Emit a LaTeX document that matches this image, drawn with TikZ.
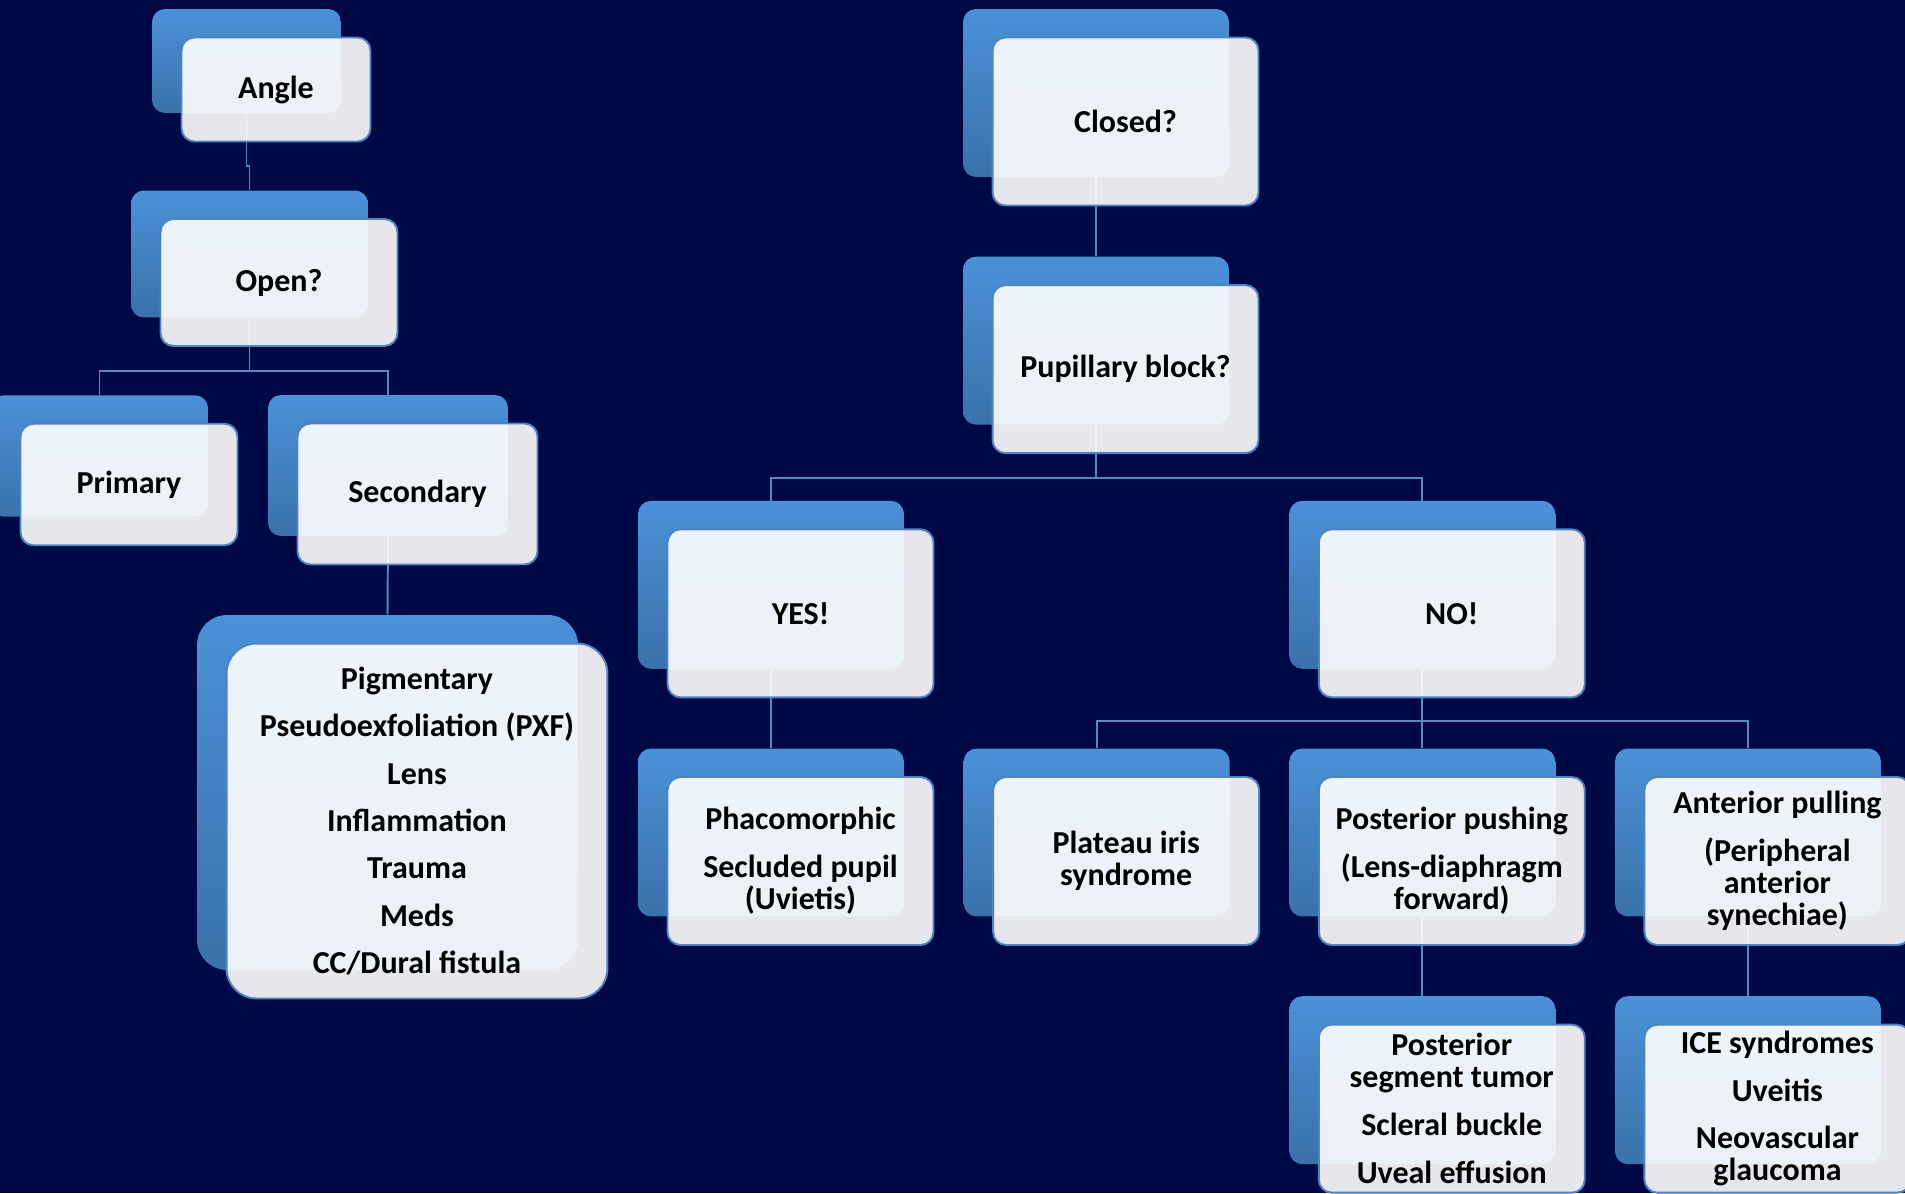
\documentclass[tikz,border=0pt]{standalone}
\usepackage{fontspec}
\setmainfont{Carlito}
\usepackage{xcolor}
\usepackage{tikz}
\usetikzlibrary{positioning}
\definecolor{night}{HTML}{000845}
\definecolor{platetop}{HTML}{4B91D8}
\definecolor{platebot}{HTML}{3A72AA}
\definecolor{rim}{HTML}{4F84C4}
\definecolor{wire}{HTML}{5A87C0}
\tikzset{
  plate/.style={rectangle, rounded corners=0.26cm, top color=platetop, bottom color=platebot,
                draw=none, inner sep=0pt, minimum width=5.32cm, minimum height=3.36cm},
  card/.style={rectangle, rounded corners=0.26cm, draw=rim, line width=1.1pt, fill=white,
               fill opacity=0.9, text opacity=1, text=black, inner sep=0pt, align=center,
               minimum width=5.32cm, minimum height=3.36cm, xshift=0.59cm, yshift=-0.57cm,
               font=\fontsize{18.2}{18.2}\selectfont\bfseries},
  link/.style={draw=wire, line width=1.1pt},
}

\begin{document}
\begin{tikzpicture}[x=0.02cm, y=-0.02cm]
\useasboundingbox (0,0) rectangle (1905,1193);
\fill[night] (0,0) rectangle (1905,1193);

% back plates, open-angle side
\node[plate, minimum width=3.78cm, minimum height=2.08cm] (angleb) at (246.5,61) {};
\node[plate, minimum width=4.74cm, minimum height=2.54cm] (openb) at (249.5,254) {};
\node[plate, minimum width=4.34cm, minimum height=2.43cm] (primaryb) at (99.5,456) {};
\node[plate, minimum width=4.8cm, minimum height=2.82cm] (secondaryb) at (388,465.5) {};
\node[plate, rounded corners=0.6cm, minimum width=7.62cm, minimum height=7.1cm] (causesb) at (387.5,792.5) {};

% back plates, closed-angle side
\node[plate] (closedb) at (1096,93) {};
\node[plate, below=1.58cm of closedb] (pupilb) {};
\node[plate] (phacob) at (771,832.5) {};
\node[plate, right=1.18cm of phacob] (plateaub) {};
\node[plate, right=1.18cm of plateaub] (pushb) {};
\node[plate, right=1.18cm of pushb] (pullb) {};
\node[plate, above=1.58cm of phacob] (yesb) {};
\node[plate, above=1.58cm of pushb] (nob) {};
\node[plate, below=1.58cm of pushb] (tumorb) {};
\node[plate, below=1.58cm of pullb] (iceb) {};

% connectors
\draw[link] (angleb.south) -- ++(0,53) -| (openb.north);
\foreach \kid in {primaryb,secondaryb}
  \draw[link] (openb.south) -- ++(0,53) -| (\kid.north);
\draw[link] (secondaryb.south) -- (causesb.north);
\draw[link] (closedb.south) -- (pupilb.north);
\foreach \kid in {yesb,nob}
  \draw[link] (pupilb.south) -- ++(0,53) -| (\kid.north);
\draw[link] (yesb.south) -- (phacob.north);
\foreach \kid in {plateaub,pushb,pullb}
  \draw[link] (nob.south) -- ++(0,52) -| (\kid.north);
\draw[link] (pushb.south) -- (tumorb.north);
\draw[link] (pullb.south) -- (iceb.north);

% cards
\node[card, minimum width=3.78cm, minimum height=2.08cm] (angle) at (angleb) {Angle};
\node[card, minimum width=4.74cm, minimum height=2.54cm] (open) at (openb) {Open?};
\node[card, minimum width=4.34cm, minimum height=2.43cm] (primary) at (primaryb) {Primary};
\node[card, minimum width=4.8cm, minimum height=2.82cm] (secondary) at (secondaryb) {Secondary};
\node[card, rounded corners=0.6cm, minimum width=7.62cm, minimum height=7.1cm] (causes) at (causesb)
 {Pigmentary\\[8.7pt] Pseudoexfoliation (PXF)\\[8.7pt] Lens\\[8.7pt] Inflammation\\[8.7pt]
  Trauma\\[8.7pt] Meds\\[8.7pt] CC/Dural fistula};

\node[card] (closed) at (closedb) {Closed?};
\node[card] (pupil) at (pupilb) {Pupillary block?};
\node[card] (yes) at (yesb) {YES!};
\node[card] (no) at (nob) {NO!};
\node[card] (phaco) at (phacob) {Phacomorphic\\[9pt] Secluded pupil\\ (Uvietis)};
\node[card] (plateau) at (plateaub) {Plateau iris\\ syndrome};
\node[card] (push) at (pushb) {Posterior pushing\\[9pt] (Lens-diaphragm\\ forward)};
\node[card] (pull) at (pullb) {Anterior pulling\\[9pt] (Peripheral\\ anterior\\ synechiae)};
\node[card] (tumor) at (tumorb) {Posterior\\ segment tumor\\[9pt] Scleral buckle\\[9pt] Uveal effusion};
\node[card] (ice) at (iceb) {ICE syndromes\\[9pt] Uveitis\\[9pt] Neovascular\\ glaucoma};
\end{tikzpicture}
\end{document}
